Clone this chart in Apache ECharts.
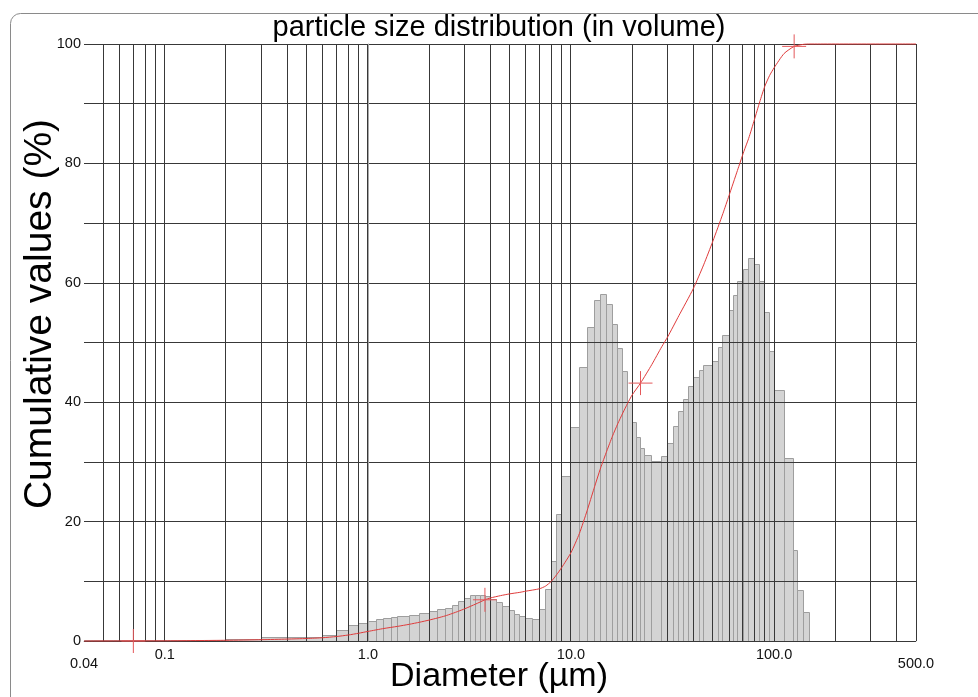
<!DOCTYPE html>
<html>
<head>
<meta charset="utf-8">
<script src="https://cdn.jsdelivr.net/npm/echarts@6/dist/echarts.min.js"></script>
<style>
  html, body { margin: 0; padding: 0; background: #fff; }
  #chart { width: 978px; height: 697px; }
</style>
</head>
<body>
<div id="chart"></div>
<script>
// ---- data ----
const binEdges = [0.04, 0.07, 0.1, 0.2, 0.3, 0.4, 0.5, 0.6, 0.7, 0.8, 0.9, 1.0,
  1.1, 1.2, 1.3, 1.4, 1.6, 1.8, 2.0, 2.2, 2.4, 2.6, 2.8, 3.0,
  3.2, 3.4, 3.6, 3.8, 4.0, 4.3, 4.6, 5.0, 5.3, 5.6, 6.0, 6.5, 7.0, 7.5, 8.0, 8.5, 9.0, 10,
  11, 12, 13, 14, 15, 16, 17, 18, 19, 20,
  21, 22, 23, 25, 28, 30, 32, 34, 36, 38, 40, 43, 45, 50, 53, 56, 60, 63, 66, 71, 75, 80, 85, 90, 95, 100,
  112, 125, 130, 140, 150];
const binHeights = [0.1, 0.1, 0.1, 0.3, 0.55, 0.55, 0.6, 1.0, 1.7, 2.55, 3.0,
  3.25, 3.55, 3.7, 3.95, 4.05, 4.2, 4.6, 4.9, 5.2, 5.45, 6.0, 6.7,
  7.1, 7.55, 7.7, 7.7, 7.4, 6.9, 6.4, 5.7, 5.1, 4.5, 4.1, 3.75, 3.6, 5.3, 8.6, 13.3, 21.2, 27.6,
  35.8, 45.8, 52.5, 57.0, 58.0, 56.4, 53.0, 49.0, 45.1, 40.0,
  36.6, 34.1, 32.3, 31.1, 30.1, 30.9, 33.1, 35.9, 38.4, 40.4, 42.7, 44.1, 45.3, 46.1, 46.8, 49.2, 51.2, 55.3, 57.9, 60.2, 62.3, 64.1, 63.1, 60.2, 55.0, 48.5,
  41.9, 30.6, 15.2, 8.5, 4.7];

const curveDiameters = [0.04, 0.07, 0.1, 0.2, 0.3, 0.4, 0.5, 0.6, 0.7, 0.8, 0.9, 1.0,
  1.2, 1.4, 1.6, 1.8, 2.0, 2.2, 2.4, 2.6, 2.8, 3.0,
  3.4, 3.77, 4.0, 4.5, 5.0, 5.6, 6.0, 7.0, 7.5, 8.0, 8.5, 9.0, 10,
  11, 12, 13, 14, 15, 16, 17, 18, 19, 20,
  22, 25, 28, 30, 34, 40, 45, 50, 56, 60, 66, 71, 75, 80, 85, 90, 95, 100,
  112, 125.6, 140, 150, 500];
const curveCumulative = [0, 0.02, 0.03, 0.12, 0.22, 0.32, 0.42, 0.55, 0.75, 1.0, 1.3, 1.6,
  2.1, 2.45, 2.8, 3.15, 3.5, 3.85, 4.2, 4.6, 5.0, 5.4,
  6.2, 6.9, 7.2, 7.6, 7.9, 8.15, 8.35, 8.75, 9.2, 10.0, 11.1, 12.3, 14.8,
  18.0, 21.8, 25.6, 29.0, 31.8, 34.3, 36.4, 38.2, 39.8, 41.2,
  43.2, 46.3, 49.3, 51.0, 54.5, 59.0, 63.0, 67.0, 71.6, 74.6, 78.8, 82.0, 84.2, 87.3, 90.3, 92.9, 94.7, 96.0,
  98.4, 99.6, 99.95, 100, 100];

const markerDiameters = [0.07, 3.77, 22, 125.6];
const markerValues = [0, 6.9, 43.2, 99.6];

const gridDiameters = [0.05, 0.06, 0.07, 0.08, 0.09,
  0.1, 0.2, 0.3, 0.4, 0.5, 0.6, 0.7, 0.8, 0.9,
  1, 2, 3, 4, 5, 6, 7, 8, 9,
  10, 20, 30, 40, 50, 60, 70, 80, 90,
  100, 200, 300, 400, 500];

const xTickDiameters = [0.04, 0.1, 1, 10, 100, 500];
const xTickLabels = ['0.04', '0.1', '1.0', '10.0', '100.0', '500.0'];
const xTickLowered = [true, false, false, false, false, true];

const titleText = 'particle size distribution (in volume)';
const xName = 'Diameter (\u00b5m)';
const yName = 'Cumulative values (%)';

// ---- build options ----
const L = Math.log10;
const FONT = '"Liberation Sans", Arial, Helvetica, sans-serif';
const barData = binHeights.map((h, i) => [L(binEdges[i]), L(binEdges[i + 1]), h]);
const curveData = curveDiameters.map((d, i) => [L(d), curveCumulative[i]]);
const markerData = markerDiameters.map((d, i) => [L(d), markerValues[i]]);
const gridData = gridDiameters.map(d => [L(d), 0]);
const crisp = v => Math.round(v - 0.5) + 0.5;

const chart = echarts.init(document.getElementById('chart'), null, { renderer: 'canvas' });
chart.setOption({
  animation: false,
  backgroundColor: '#ffffff',
  grid: { left: 84, right: 62, top: 44, bottom: 56, containLabel: false },
  xAxis: {
    type: 'value',
    min: L(0.04), max: L(500),
    splitLine: { show: false },
    axisTick: { show: false },
    axisLine: { show: true, lineStyle: { color: '#b0b0b0', width: 1 } },
    axisLabel: {
      show: true,
      customValues: xTickDiameters.map(L),
      margin: 6,
      color: '#111',
      fontFamily: FONT,
      fontSize: 14.5,
      formatter: function (v) {
        let idx = 0, best = 1e9;
        xTickDiameters.forEach((d, i) => { const e = Math.abs(L(d) - v); if (e < best) { best = e; idx = i; } });
        return xTickLowered[idx] ? '{lo|' + xTickLabels[idx] + '}' : xTickLabels[idx];
      },
      rich: { lo: { fontFamily: FONT, fontSize: 14.5, color: '#111', padding: [9, 0, 0, 0] } }
    }
  },
  yAxis: {
    type: 'value',
    min: 0, max: 100, interval: 10,
    z: 3,
    axisLine: { show: true, lineStyle: { color: '#a8a8a8', width: 1 } },
    axisTick: { show: false },
    splitLine: { show: true, lineStyle: { color: '#383838', width: 1 } },
    axisLabel: {
      margin: 3,
      color: '#111',
      fontFamily: FONT,
      fontSize: 14.5,
      verticalAlign: 'middle',
      lineHeight: 16,
      padding: [0, 0, 6, 0],
      formatter: v => (v % 20 === 0 ? String(v) : '')
    }
  },
  series: [
    {
      name: 'histogram',
      type: 'custom',
      z: 2,
      clip: false,
      data: barData,
      encode: { x: [0, 1], y: 2 },
      renderItem: function (params, api) {
        const p0 = api.coord([api.value(0), 0]);
        const p1 = api.coord([api.value(1), api.value(2)]);
        const x0 = crisp(p0[0]), x1 = crisp(p1[0]);
        const yb = crisp(p0[1]), yt = crisp(p1[1]);
        return {
          type: 'rect',
          shape: { x: x0, y: yt, width: x1 - x0, height: yb - yt },
          style: { fill: '#d4d4d4', stroke: '#9e9e9e', lineWidth: 1 }
        };
      }
    },
    {
      name: 'vgrid',
      type: 'custom',
      z: 3,
      silent: true,
      clip: false,
      data: gridData,
      encode: { x: 0, y: 1 },
      renderItem: function (params, api) {
        const pb = api.coord([api.value(0), 0]);
        const pt = api.coord([api.value(0), 100]);
        const x = crisp(pb[0]);
        return {
          type: 'line',
          shape: { x1: x, y1: pt[1], x2: x, y2: pb[1] },
          style: { stroke: '#383838', lineWidth: 1 }
        };
      }
    },
    {
      name: 'cumulative',
      type: 'line',
      z: 5,
      clip: false,
      data: curveData,
      showSymbol: false,
      smooth: 0.2,
      lineStyle: { color: '#e03b3b', width: 1 }
    },
    {
      name: 'markers',
      type: 'scatter',
      z: 6,
      clip: false,
      data: markerData,
      symbol: 'path://M12,0 L12,24 M0,12 L24,12',
      symbolSize: [24, 24],
      itemStyle: { color: 'none', borderColor: '#e4585a', borderWidth: 1, opacity: 1 }
    }
  ],
  graphic: [
    {
      type: 'rect', silent: true, z: -1,
      shape: { x: 10.5, y: 13.5, width: 1100, height: 900, r: 10 },
      style: { fill: 'none', stroke: '#8a8a8a', lineWidth: 1 }
    },
    {
      type: 'text', x: 499, y: 28, silent: true,
      style: { text: titleText, font: '29px ' + FONT, fill: '#000', textAlign: 'center', textVerticalAlign: 'middle' }
    },
    {
      type: 'text', x: 499, y: 677, silent: true,
      style: { text: xName, font: '34px ' + FONT, fill: '#000', textAlign: 'center', textVerticalAlign: 'middle' }
    },
    {
      type: 'text', x: 40, y: 314, rotation: Math.PI / 2, silent: true,
      style: { text: yName, font: '39px ' + FONT, fill: '#000', textAlign: 'center', textVerticalAlign: 'middle' }
    }
  ]
});
</script>
</body>
</html>
